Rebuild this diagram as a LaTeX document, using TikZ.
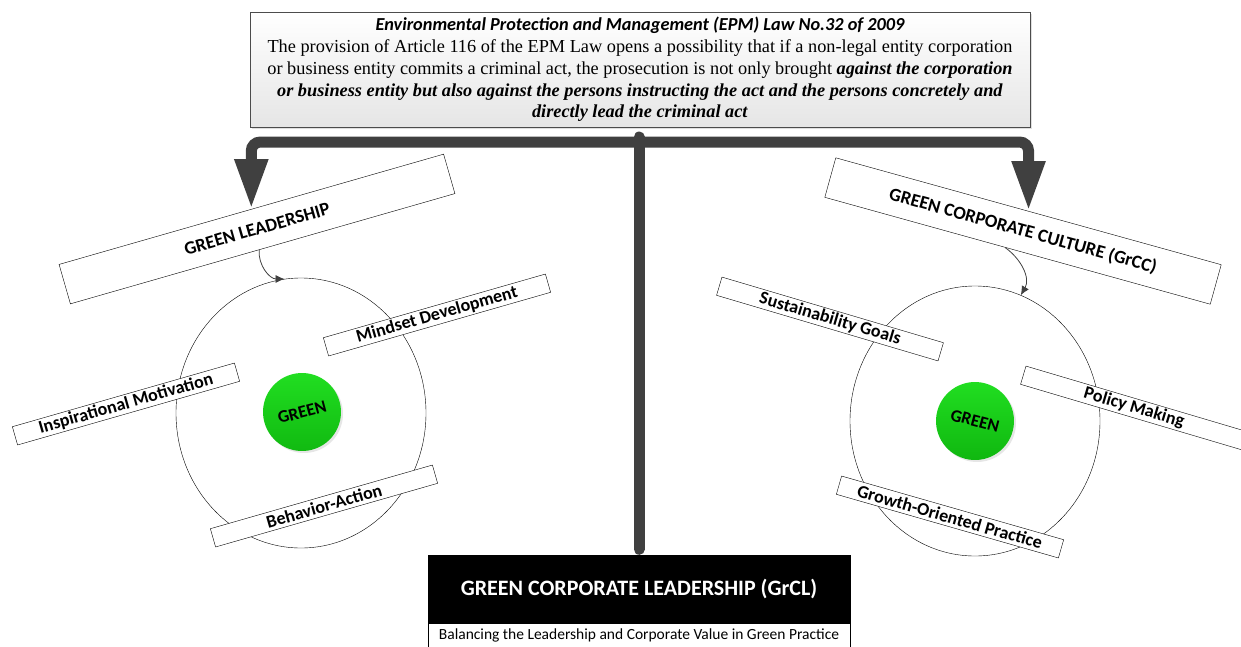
\documentclass[tikz,border=0pt]{standalone}
\usepackage{fontspec}
\setmainfont{Liberation Serif}
\newfontfamily\calibri{Carlito}
\usetikzlibrary{arrows.meta,positioning,shapes.geometric,shadows}
\definecolor{barc}{HTML}{404040}
\definecolor{leaf}{HTML}{22E022}
\definecolor{leafdark}{HTML}{10B810}

\begin{document}
\begin{tikzpicture}[x=1pt, y=-1pt, >=Latex]
\tikzset{
  lawbox/.style={rectangle, draw=black!70, top color=white, bottom color=black!10, drop shadow={opacity=0.25, shadow xshift=2pt, shadow yshift=-2pt}, minimum width=780pt, minimum height=115pt, align=center, inner sep=0pt, font=\fontsize{18.3}{21.8}\selectfont},
  head/.style={rectangle, draw, fill=white, minimum width=400pt, minimum height=41pt, inner sep=0pt, font=\calibri\bfseries\fontsize{18.5}{20}\selectfont},
  tag/.style={rectangle, draw, fill=white, minimum width=231pt, minimum height=19pt, inner sep=0pt, font=\calibri\bfseries\fontsize{18}{19}\selectfont},
  ring/.style={ellipse, draw, thin, minimum width=250pt, minimum height=270pt, inner sep=0pt},
  core/.style={circle, draw=none, top color=leaf, bottom color=leafdark, minimum size=78pt, inner sep=0pt, drop shadow={opacity=0.2, shadow xshift=2pt, shadow yshift=-2pt}, font=\calibri\bfseries\fontsize{17.5}{18}\selectfont},
  grclbox/.style={rectangle, draw, fill=black, text=white, minimum width=422pt, minimum height=68pt, inner sep=0pt, font=\calibri\bfseries\fontsize{22}{24}\selectfont},
  subbox/.style={rectangle, draw, fill=white, minimum width=422pt, minimum height=24pt, inner sep=0pt, font=\calibri\fontsize{15.5}{17}\selectfont},
  bar/.style={draw=barc, line width=11pt},
  curl/.style={-{Latex[length=9pt,width=8pt]}, line width=0.8pt, draw=black!75}
}
\useasboundingbox (0,0) rectangle (1241,646);
\clip (0,0) rectangle (1241,646);

% the law
\node[lawbox] (law) at (640,69.5) {{\calibri\bfseries\itshape Environmental Protection and Management (EPM) Law No.32 of 2009}\\
The provision of Article 116 of the EPM Law opens a possibility that if a non-legal entity corporation\\
or business entity commits a criminal act, the prosecution is not only brought \textbf{\textit{against the corporation}}\\
\textbf{\textit{or business entity but also against the persons instructing the act and the persons concretely and}}\\
\textbf{\textit{directly lead the criminal act}}};

% left side
\node[ring] (ringL) at (301,413) {};
\node[core, rotate=15] (coreL) at (302,412) {GREEN};
\node[head, rotate=16] (lead) at (257,229) {GREEN LEADERSHIP};
\node[tag, rotate=16] (mind) at (437,315) {Mindset Development};
\node[tag, rotate=16] (insp) at (126,404) {Inspirational Motivation};
\node[tag, rotate=16] (beh)  at (324,506) {Behavior-Action};

% right side
\node[ring] (ringR) at (975,421) {};
\node[core, rotate=-15] (coreR) at (975,421) {GREEN};
\node[head, rotate=-15.5] (cult) at (1023,231) {GREEN CORPORATE CULTURE (GrCC)};
\node[tag, rotate=-16.5] (sust) at (830,319) {Sustainability Goals};
\node[tag, rotate=-16.5] (pol)  at (1134,408) {Policy Making};
\node[tag, rotate=-16] (grow) at (950,517) {Growth-Oriented Practice};

% bottom
\node[grclbox] (grcl) at (639,589) {GREEN CORPORATE LEADERSHIP (GrCL)};
\node[subbox, below=0pt of grcl] (bal) {Balancing the Leadership and Corporate Value in Green Practice};

% connectors
\coordinate (hub) at (639,142);
\draw[bar, line cap=round] ([yshift=5pt]hub) -- ([yshift=5.5pt]grcl.north);
\draw[bar, rounded corners=9pt, -{Triangle[width=31pt,length=50pt]}] (hub) -| (lead.north);
\draw[bar, rounded corners=9pt, -{Triangle[width=31pt,length=50pt]}] (hub) -| (cult.north);
\draw[curl] (lead.-100) to[out=-95, in=180] (ringL.97);
\draw[curl] (cult.-122) to[out=-35, in=60] (ringR.70);
\end{tikzpicture}
\end{document}
